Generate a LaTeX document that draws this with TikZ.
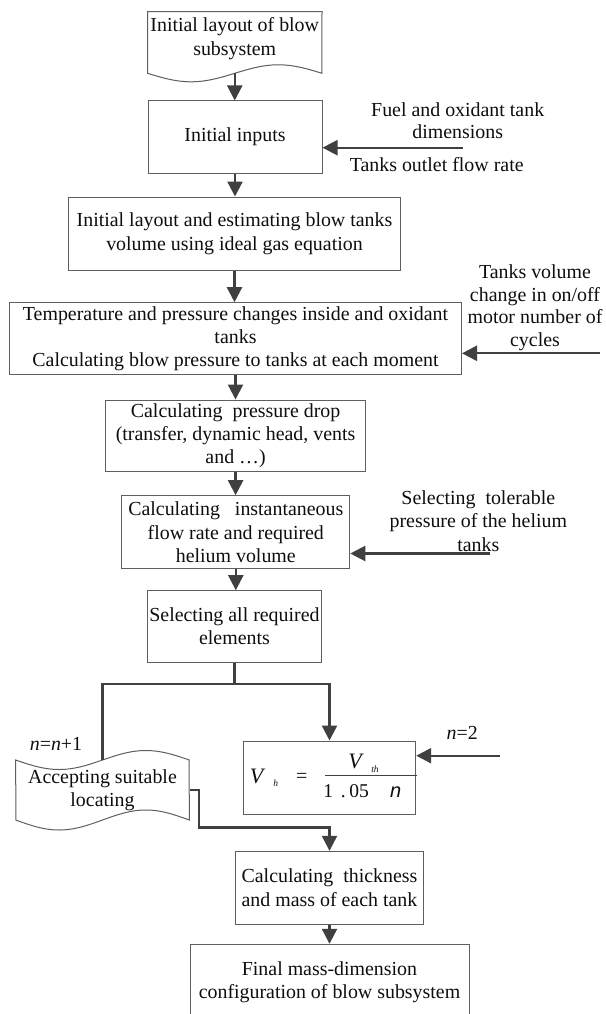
\documentclass[tikz,border=0pt]{standalone}
\usepackage{fontspec}
\setmainfont{Liberation Serif}
\newfontfamily\arialf{Liberation Sans}
\usetikzlibrary{arrows.meta}
\definecolor{bordercol}{HTML}{5E5E5E}
\definecolor{conncol}{HTML}{404040}
\definecolor{txtcol}{HTML}{0E0E0E}
\begin{document}
\begin{tikzpicture}[x=1pt,y=-1pt,
  tx/.style={font=\fontsize{19.9}{23.3}\selectfont, align=center, text=txtcol, inner sep=0pt},
  box/.style={tx, draw=bordercol, line width=1pt},
  ghost/.style={tx, draw=none},
  boxline/.style={draw=bordercol, line width=1pt},
  conn/.style={draw=conncol, line width=2.3pt},
  arr/.style={conn, -{Triangle[length=15pt,width=15pt]}},
  fm/.style={text=txtcol, inner sep=0pt, anchor=base}]
\useasboundingbox (0,0) rectangle (605,1014);
\fill[white] (0,0) rectangle (605,1014);

% ---- top document shape
\draw[boxline] plot[domain=0:1,samples=60,smooth] ({147.5+174.5*\x},{73.3+8.5*sin(360*\x)}) -- (322,11.7) -- (147.5,11.7) -- cycle;
\node[ghost, minimum width=174.5pt, minimum height=61.6pt] (d1) at (234.75,42.5) {};
\node[tx] (d1t) at (234.75,38.5) {Initial layout of blow\\subsystem};

% ---- boxes
\node[box, minimum width=174pt, minimum height=72.3pt] (b2) at (235,137.15) {Initial inputs};
\node[box, minimum width=332pt, minimum height=73.3pt] (b3) at (234.5,233.65) {Initial layout and estimating blow tanks\\volume using ideal gas equation};
\node[box, minimum width=452pt, minimum height=71.8pt] (b4) at (235.5,338.6) {Temperature and pressure changes inside and oxidant\\tanks\\Calculating blow pressure to tanks at each moment};
\node[box, minimum width=260.2pt, minimum height=71.5pt] (b5) at (235.6,435.75) {Calculating\ \ pressure drop\\(transfer, dynamic head, vents\\and …)};
\node[box, minimum width=228pt, minimum height=73pt] (b6) at (235.8,532.2) {Calculating\ \ \ instantaneous\\flow rate and required\\helium volume};
\node[box, minimum width=174.1pt, minimum height=71.3pt] (b7) at (234.45,626.35) {Selecting all required\\elements};
\node[box, minimum width=172.4pt, minimum height=73.3pt] (b8) at (329.5,777.65) {};
\node[box, minimum width=187.6pt, minimum height=72.9pt] (b9) at (329.5,887.75) {Calculating\ \ thickness\\and mass of each tank};
\node[box, minimum width=279pt, minimum height=75.7pt] (b10) at (329.5,982.15) {Final mass-dimension\\configuration of blow subsystem};

% ---- tape shape
\draw[boxline] plot[domain=0:1,samples=60,smooth] ({15.7+173.6*\x},{760+9.5*sin(360*\x)}) -- plot[domain=1:0,samples=60,smooth] ({15.7+173.6*\x},{820+10*sin(360*\x)}) -- cycle;
\node[ghost, minimum width=173.6pt, minimum height=60pt] (d2) at (102.5,790) {Accepting suitable\\locating};

% ---- formula in b8
\node[fm, font=\fontsize{22}{22}\selectfont\itshape] (f1) at (256.7,783.5) {V};
\node[fm, font=\fontsize{9.5}{9.5}\selectfont\itshape] (f2) at (275.7,786) {h};
\node[fm, font=\fontsize{20}{20}\selectfont] (f3) at (301.7,782.5) {=};
\draw[draw=conncol, line width=1.2pt] (325,775.7) -- (416.7,775.7);
\node[fm, font=\fontsize{22}{22}\selectfont\itshape] (f4) at (355,768.5) {V};
\node[fm, font=\fontsize{9.5}{9.5}\selectfont\itshape] (f5) at (375,772) {th};
\node[fm, font=\fontsize{19.5}{19.5}\selectfont] (f6) at (328.3,797.5) {1};
\node[fm, font=\fontsize{19.5}{19.5}\selectfont] (f7) at (343.3,797.5) {.};
\node[fm, font=\fontsize{19.5}{19.5}\selectfont] (f8) at (359,797.5) {05};
\node[fm, font=\fontsize{20}{20}\selectfont\arialf\itshape] (f9) at (395.7,797.5) {n};

% ---- main column connectors
\draw[arr] (d1.south) -- (d1.south |- b2.north);
\draw[arr] (b2) -- (b2 |- b3.north);
\draw[arr] (b3) -- (b3 |- b4.north);
\draw[arr] (b4) -- (b4 |- b5.north);
\draw[arr] (b5) -- (b5 |- b6.north);
\draw[arr] (b6) -- (b6 |- b7.north);

\coordinate (sp) at (234.45,684.3);
\draw[conn] (b7.south) -- (sp);
\draw[conn] (sp) -| (d2.north);
\draw[arr] (sp) -| (b8.north);

\coordinate (j1) at (199.3,827.5);
\draw[arr] (d2.east) -| (j1) -| (b9.north);
\draw[arr] (b9) -- (b9 |- b10.north);

% ---- side inputs
\coordinate (i1) at (462.7,147.7);
\draw[arr] (i1) -- (i1 -| b2.east);
\node[tx, font=\fontsize{19.9}{21.7}\selectfont] (l1a) at (457.7,120.85) {Fuel and oxidant tank\\dimensions};
\node[tx] (l1b) at (436.7,164.3) {Tanks outlet flow rate};

\coordinate (i2) at (600,353.3);
\draw[arr] (i2) -- (i2 -| b4.east);
\node[tx, font=\fontsize{19.9}{22.8}\selectfont] (l2) at (535,307.7) {Tanks volume\\change in on/off\\motor number of\\cycles};

\coordinate (i3) at (490,553.5);
\draw[arr] (i3) -- (i3 -| b6.east);
\node[tx] (l3) at (478.3,521.1) {Selecting\ \ tolerable\\pressure of the helium\\tanks};

\coordinate (i4) at (500,755.7);
\draw[arr] (i4) -- (i4 -| b8.east);
\node[tx] (l4) at (462.3,733.3) {\textit{n}=2};
\node[tx] (l5) at (56,744.3) {\textit{n}=\textit{n}+1};
\end{tikzpicture}
\end{document}
